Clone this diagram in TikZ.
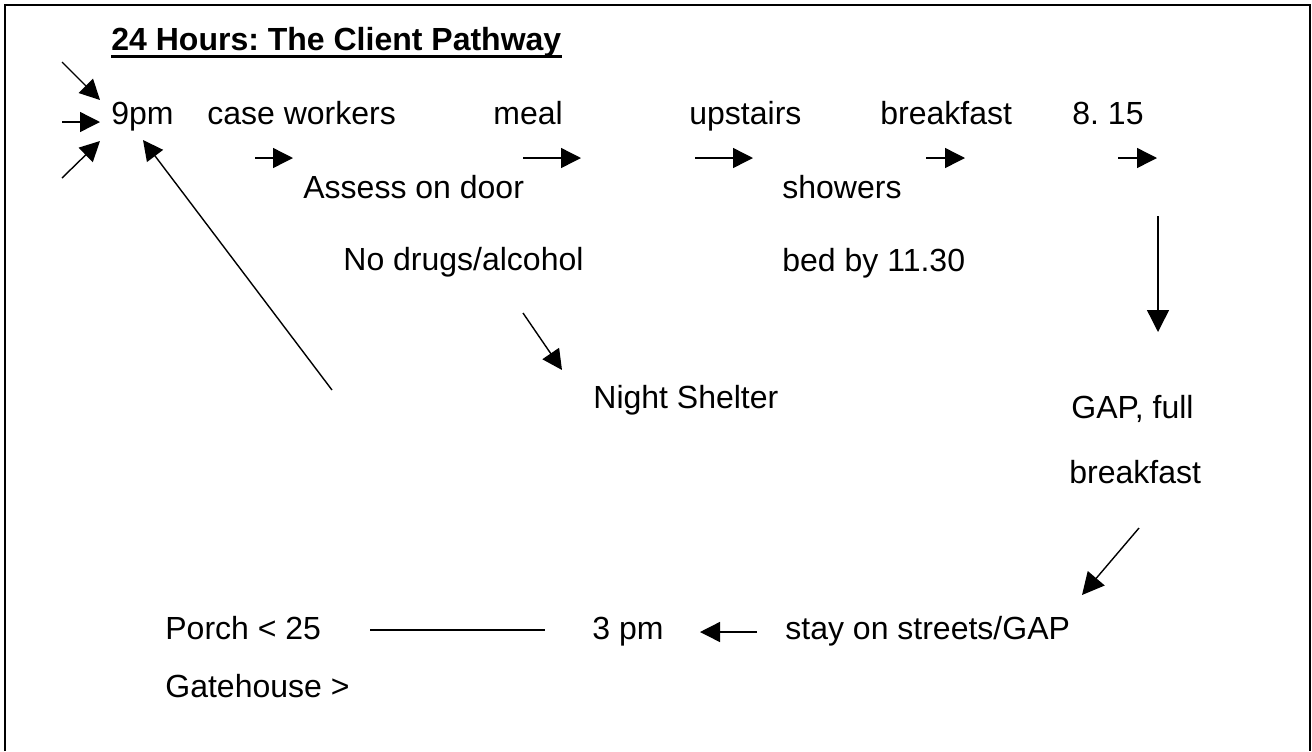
\documentclass[tikz,border=0pt]{standalone}
\usepackage{fontspec}
\setmainfont{Liberation Sans}
\usetikzlibrary{arrows.meta}
\usetikzlibrary{calc}
\frenchspacing

\tikzset{
    txt/.style={anchor=base west, inner sep=0pt, font=\fontsize{16}{19}\selectfont},
    arr/.style={line width=0.7pt, -{Triangle[length=10pt, width=10pt]}}
}

\begin{document}
\begin{tikzpicture}[x=0.5pt, y=-0.5pt]
        \useasboundingbox (0,0) rectangle (1312,751);

        % frame (open at the bottom)
        \draw[line width=1pt] (5,751) -- (5,5) -- (1310,5) -- (1310,751);

        % heading
        \node[txt, font=\fontsize{16}{19}\selectfont\bfseries] (title) at (111,50) {24 Hours: The Client Pathway};
        \draw[line width=1.5pt] ($(title.base west)+(0,6)$) -- ($(title.base east)+(0,6)$);

        % first row
        \node[txt] (ninepm) at (111,124) {9pm};
        \node[txt] (caseworkers) at (207,124) {case workers};
        \node[txt] (meal) at (493,124) {meal};
        \node[txt] (upstairs) at (689,124) {upstairs};
        \node[txt] (breakfast) at (880,124) {breakfast};
        \node[txt] (eightfifteen) at (1072,124) {8. 15};

        % under the first row
        \node[txt] (assess) at (303,198) {Assess on door};
        \node[txt] (showers) at (782,198) {showers};
        \node[txt] (nodrugs) at (343,270) {No drugs/alcohol};
        \node[txt] (bedby) at (782,271) {bed by 11.30};
        \node[txt] (shelter) at (593,408) {Night Shelter};

        % right side
        \node[txt] (gapfull) at (1071,418) {GAP, full};
        \node[txt] (gapbreakfast) at (1069,483) {breakfast};

        % bottom row
        \node[txt] (porch) at (165,639) {Porch < 25};
        \node[txt] (gatehouse) at (165,697) {Gatehouse >};
        \node[txt] (threepm) at (592,639) {3 pm};
        \node[txt] (streets) at (785,639) {stay on streets/GAP};

        % arrows coming in to 9pm
        \coordinate (ina) at (62,62);
        \coordinate (inb) at (62,122);
        \coordinate (inc) at (62,178);
        \coordinate (tipa) at (100,100);
        \coordinate (tipb) at (100,122);
        \coordinate (tipc) at (100,141);
        \draw[arr] (ina) -- (tipa);
        \draw[arr] (inb) -- (tipb);
        \draw[arr] (inc) -- (tipc);

        % back to 9pm
        \coordinate (backstart) at (332,390);
        \coordinate (backtip) at (143,140);
        \draw[arr] (backstart) -- (backtip);

        % small arrows along the first row
        \foreach \i/\a/\b in {1/255/293, 2/523/581, 3/695/753, 4/926/965, 5/1118/1157} {
            \coordinate (row\i s) at (\a,158);
            \coordinate (row\i e) at (\b,158);
            \draw[arr] (row\i s) -- (row\i e);
        }

        % turned away
        \coordinate (refusestart) at (523,313);
        \coordinate (refusetip) at (562,370);
        \draw[arr] (refusestart) -- (refusetip);

        % morning
        \coordinate (downstart) at (1158,216);
        \coordinate (downtip) at (1158,332);
        \draw[arr, -{Triangle[length=11pt, width=11pt]}] (downstart) -- (downtip);

        \coordinate (diagstart) at (1139,528);
        \coordinate (diagtip) at (1082,595);
        \draw[arr, -{Triangle[length=11pt, width=11pt]}] (diagstart) -- (diagtip);

        % afternoon
        \coordinate (linestart) at (370,630);
        \coordinate (lineend) at (545,630);
        \draw[line width=0.7pt] (linestart) -- (lineend);

        \coordinate (leftstart) at (757,632);
        \coordinate (lefttip) at (700,632);
        \draw[arr] (leftstart) -- (lefttip);

    \end{tikzpicture}
\end{document}
